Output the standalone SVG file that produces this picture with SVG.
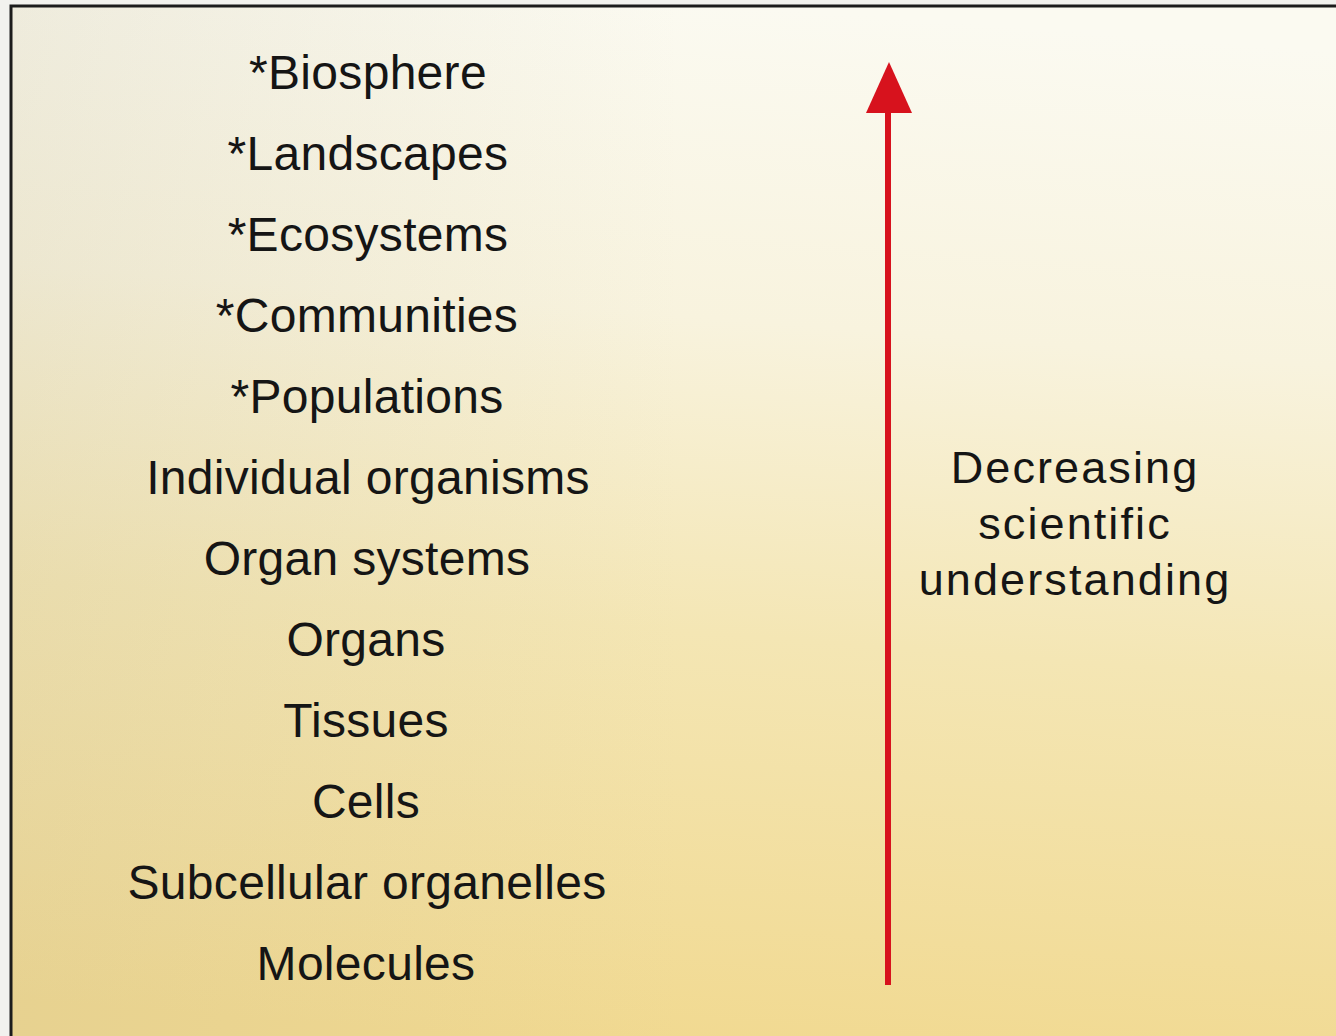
<svg xmlns="http://www.w3.org/2000/svg" width="1336" height="1036" viewBox="0 0 1336 1036">
  <defs>
    <linearGradient id="bg" x1="0.55" y1="0" x2="0.45" y2="1">
      <stop offset="0" stop-color="#fbfaf1"/>
      <stop offset="0.3" stop-color="#f8f3de"/>
      <stop offset="0.6" stop-color="#f4e6b4"/>
      <stop offset="1" stop-color="#f1d990"/>
    </linearGradient>
    <linearGradient id="shade" x1="0" y1="0" x2="1" y2="0">
      <stop offset="0" stop-color="#b8b090" stop-opacity="0.18"/>
      <stop offset="0.5" stop-color="#b8b090" stop-opacity="0"/>
    </linearGradient>
    <style>
      .lvl { font-family: "Liberation Sans", Arial, sans-serif; font-size: 48px; fill: #151515; text-anchor: middle; letter-spacing: 0.3px; }
      .lbl { font-family: "Liberation Sans", Arial, sans-serif; font-size: 45px; fill: #151515; text-anchor: middle; letter-spacing: 2.1px; }
    </style>
  </defs>
  <rect x="0" y="0" width="1336" height="1036" fill="#f2f2ee"/>
  <rect x="11" y="6" width="1340" height="1040" fill="url(#bg)"/>
  <rect x="11" y="6" width="1340" height="1040" fill="url(#shade)"/>
  <rect x="11" y="6" width="1340" height="1040" fill="none" stroke="#1c1c1c" stroke-width="3"/>

  <g id="levels">
    <g id="biosphere"><text class="lvl" x="368" y="89">*Biosphere</text></g>
    <g id="landscapes"><text class="lvl" x="368" y="170">*Landscapes</text></g>
    <g id="ecosystems"><text class="lvl" x="368" y="251">*Ecosystems</text></g>
    <g id="communities"><text class="lvl" x="367" y="332">*Communities</text></g>
    <g id="populations"><text class="lvl" x="367" y="413">*Populations</text></g>
    <g id="individual"><text class="lvl" x="368" y="494">Individual organisms</text></g>
    <g id="organsystems"><text class="lvl" x="367" y="575">Organ systems</text></g>
    <g id="organs"><text class="lvl" x="366" y="656">Organs</text></g>
    <g id="tissues"><text class="lvl" x="366" y="737">Tissues</text></g>
    <g id="cells"><text class="lvl" x="366" y="818">Cells</text></g>
    <g id="organelles"><text class="lvl" x="367" y="899">Subcellular organelles</text></g>
    <g id="molecules"><text class="lvl" x="366" y="980">Molecules</text></g>
  </g>

  <g id="connectors">
    <line x1="888" y1="985" x2="888" y2="108" stroke="#d7121d" stroke-width="6"/>
    <polygon points="889,62 912,113 866,113" fill="#d7121d"/>
  </g>

  <g id="axis-label">
    <text class="lbl" x="1075" y="483">Decreasing</text>
    <text class="lbl" x="1075" y="539">scientific</text>
    <text class="lbl" x="1075" y="595">understanding</text>
  </g>
</svg>
